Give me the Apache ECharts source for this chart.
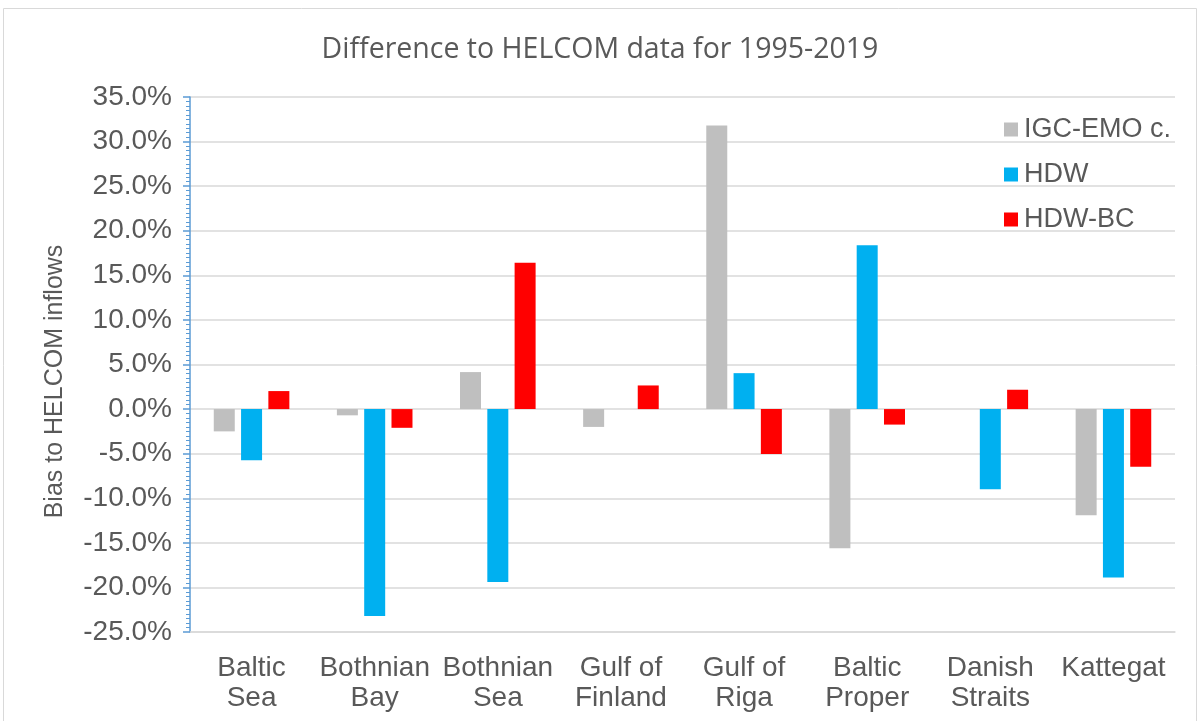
<!DOCTYPE html>
<html><head><meta charset="utf-8">
<script src="https://cdn.jsdelivr.net/npm/echarts@6/dist/echarts.min.js"></script>
<style>html,body{margin:0;padding:0;background:#fff}#c{width:1200px;height:721px}</style>
</head><body><div id="c"></div>
<script>
const categories = ['Baltic\nSea','Bothnian\nBay','Bothnian\nSea','Gulf of\nFinland','Gulf of\nRiga','Baltic\nProper','Danish\nStraits','Kattegat'];
const igcEmo = [-2.5, -0.7, 4.15, -2.0, 31.8, -15.6, 0.0, -11.9];
const hdw    = [-5.75, -23.2, -19.4, 0.0, 4.03, 18.36, -9.0, -18.9];
const hdwBc  = [2.02, -2.1, 16.4, 2.65, -5.03, -1.74, 2.17, -6.47];
const seriesNames = ['IGC-EMO c.', 'HDW', 'HDW-BC'];
const chart = echarts.init(document.getElementById('c'));
const txt = '#595959';
const font = 'Liberation Sans, Arial, sans-serif';
chart.setOption({
  animation: false,
  title: { text: 'Difference to HELCOM data for 1995-2019', left: 'center', top: 30,
    textStyle: { fontFamily: 'Open Sans, sans-serif', fontWeight: 'normal', fontSize: 28.5, color: txt } },
  graphic: [{ type: 'rect', shape: { x: 3.5, y: 8.5, width: 1193, height: 720 }, style: { fill: 'none', stroke: '#d9d9d9', lineWidth: 1 }, silent: true }],
  legend: { orient: 'vertical', left: 999, top: 111, itemGap: 18, itemWidth: 14, itemHeight: 14, icon: 'rect',
    textStyle: { fontFamily: font, fontSize: 27, lineHeight: 27, color: txt, padding: [0, 0, 0, 1] }, data: seriesNames },
  grid: { left: 190, right: 25, top: 97, bottom: 89, containLabel: false },
  xAxis: { type: 'category', data: categories,
    axisLine: { onZero: false, lineStyle: { color: '#d9d9d9', width: 1.5 } },
    axisTick: { show: false },
    axisLabel: { fontFamily: font, fontSize: 28, color: txt, lineHeight: 30, margin: 21, interval: 0 } },
  yAxis: { type: 'value', min: -25, max: 35, interval: 5,
    name: 'Bias to HELCOM inflows', nameLocation: 'middle', nameGap: 122, nameRotate: 90,
    nameTextStyle: { fontFamily: font, fontSize: 25, color: txt, padding: [0, 34, 0, 0] },
    axisLine: { show: true, lineStyle: { color: '#5B9BD5', width: 1.5 } },
    axisTick: { show: true, length: 7, lineStyle: { color: '#5B9BD5', width: 1.5 } },
    minorTick: { show: true, splitNumber: 10, length: 4, lineStyle: { color: '#5B9BD5', width: 1 } },
    axisLabel: { fontFamily: font, fontSize: 28, color: txt, margin: 18, formatter: v => v.toFixed(1) + '%' },
    splitLine: { lineStyle: { color: '#d9d9d9', width: 1.5 } } },
  series: [
    { name: seriesNames[0], type: 'bar', data: igcEmo, itemStyle: { color: '#BFBFBF' }, barWidth: 21, barGap: '30%' },
    { name: seriesNames[1], type: 'bar', data: hdw, itemStyle: { color: '#00B0F0' }, barWidth: 21, barGap: '30%' },
    { name: seriesNames[2], type: 'bar', data: hdwBc, itemStyle: { color: '#FF0000' }, barWidth: 21, barGap: '30%' }
  ]
});
</script></body></html>
